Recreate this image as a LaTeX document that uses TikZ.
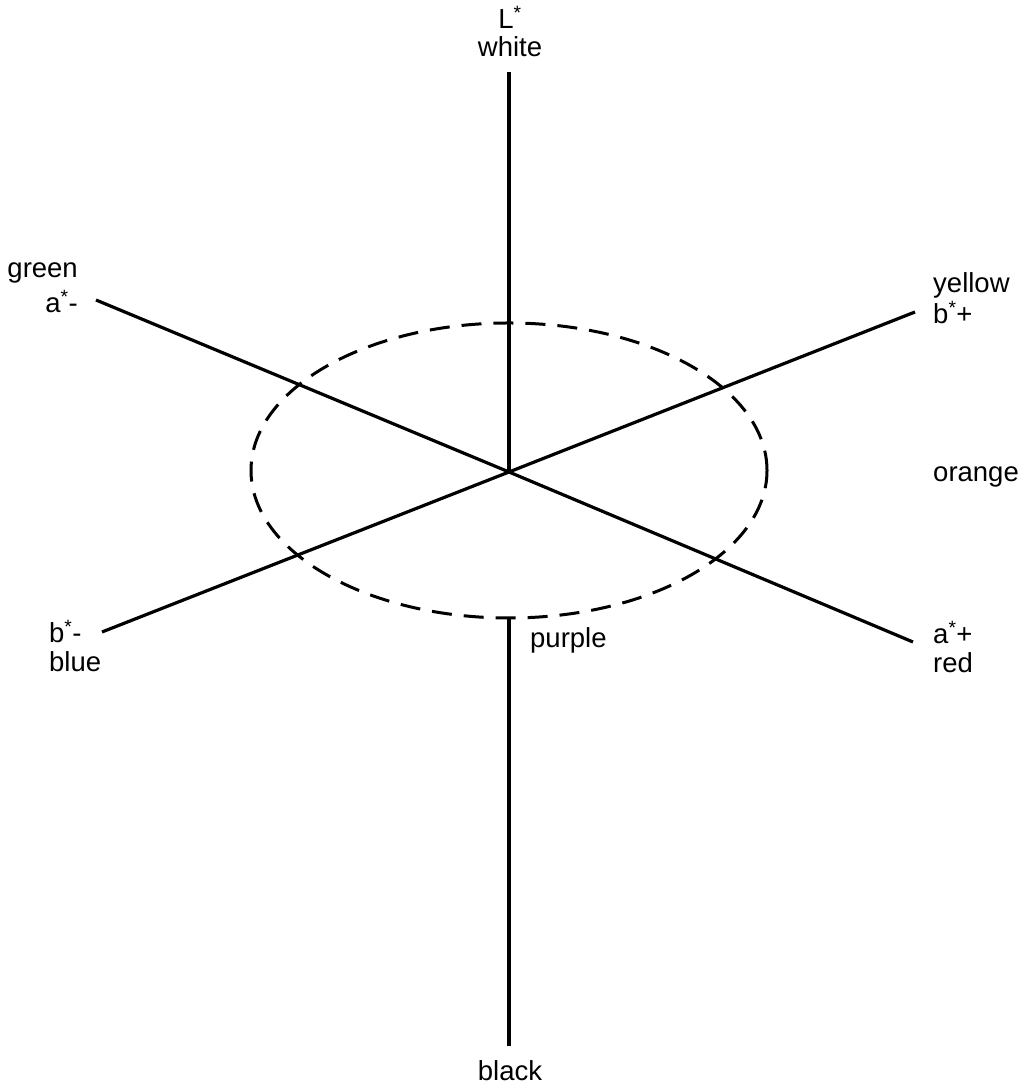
\documentclass[tikz,border=0pt]{standalone}
\usepackage{fontspec}
\setmainfont{Liberation Sans}
\usetikzlibrary{positioning, shapes.geometric}

\begin{document}
\begin{tikzpicture}[
    x=1pt, y=1pt,
    axis/.style={line width=3.2pt},
    ring/.style={ellipse, draw, line width=3pt,
                 dash pattern=on 20pt off 12pt,
                 minimum width=516pt, minimum height=295pt, inner sep=0pt},
    lbl/.style={font=\fontsize{27.5}{31}\selectfont, inner sep=0pt}
]
\useasboundingbox (0,0) rectangle (1026,1086);

% axes end points
\coordinate (centre) at (509,614);
\coordinate (top) at (509,1014);
\coordinate (bottom) at (509,40);
\coordinate (green) at (96,786);
\coordinate (red) at (913,444);
\coordinate (yellow) at (915,774);
\coordinate (blue) at (102,454);

\node[ring] (hue) at (509,615.5) {};

\draw[axis] (top) -- (centre);
\draw[axis] (hue.south) -- (bottom);
\draw[axis] (green) -- (centre) -- (red);
\draw[axis] (yellow) -- (centre) -- (blue);

% labels
\node[lbl] (lstar) at (510,1069) {L\textsuperscript{*}};
\node[lbl] (white) at (510,1039) {white};
\node[lbl] (black) at (510,15) {black};
\node[lbl, anchor=east] (greenlbl) at (78,813) {green};
\node[lbl, anchor=east] (aminus) at (78,784) {a\textsuperscript{*}-};
\node[lbl, anchor=west] (bminus) at (49,454) {b\textsuperscript{*}-};
\node[lbl, anchor=west] (bluelbl) at (49,424) {blue};
\node[lbl, anchor=west] (yellowlbl) at (933,801) {yellow};
\node[lbl, anchor=west] (bplus) at (933,773) {b\textsuperscript{*}+};
\node[lbl, anchor=west] (orange) at (933,609) {orange};
\node[lbl, anchor=west] (aplus) at (933,453) {a\textsuperscript{*}+};
\node[lbl, anchor=west] (redlbl) at (933,423) {red};
\node[lbl, anchor=west] (purple) at (530,446) {purple};
\end{tikzpicture}
\end{document}
